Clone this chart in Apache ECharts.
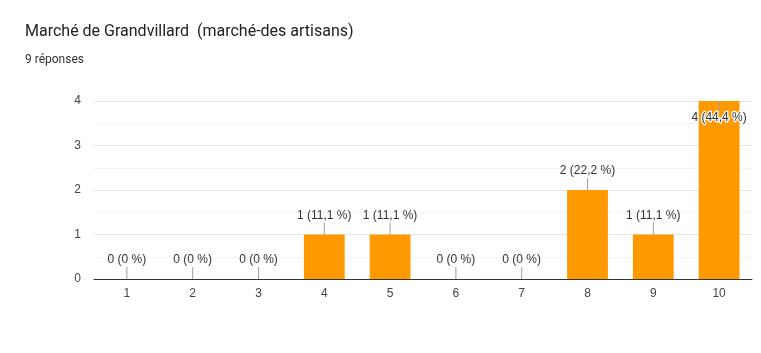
<!DOCTYPE html>
<html>
<head>
<meta charset="utf-8">
<script src="https://cdn.jsdelivr.net/npm/echarts@6/dist/echarts.min.js"></script>
<style>
  html, body { margin: 0; padding: 0; background: #fff; }
  #chart { width: 761px; height: 353px; }
</style>
</head>
<body>
<div id="chart"></div>
<script>
const categories = ['1', '2', '3', '4', '5', '6', '7', '8', '9', '10']
const counts = [0, 0, 0, 1, 1, 0, 0, 2, 1, 4]
const percents = ['0', '0', '0', '11,1', '11,1', '0', '0', '22,2', '11,1', '44,4']
const yTicks = [0, 1, 2, 3, 4]

const yMax = yTicks[yTicks.length - 1]
const chart = echarts.init(document.getElementById('chart'))

chart.setOption({
  animation: false,
  textStyle: { fontFamily: 'Roboto' },
  title: [{
    text: 'Marché de Grandvillard  (marché-des artisans)',
    left: 20, top: 19,
    textStyle: { fontSize: 16, fontWeight: 'normal', color: '#212121', fontFamily: 'Roboto' }
  }, {
    text: '9 réponses',
    left: 20, top: 49,
    textStyle: { fontSize: 12, fontWeight: 'normal', color: '#333', fontFamily: 'Roboto' }
  }],
  grid: { left: 94, right: 9, top: 101, bottom: 74 },
  xAxis: {
    type: 'category',
    data: categories,
    axisTick: { show: false },
    axisLine: { lineStyle: { color: '#333', width: 1 } },
    axisLabel: { color: '#444', fontSize: 12, margin: 9, fontFamily: 'Liberation Sans' }
  },
  yAxis: {
    type: 'value',
    min: 0, max: yMax, interval: 1,
    axisLabel: { color: '#444', fontSize: 12, margin: 13, fontFamily: 'Liberation Sans' },
    splitLine: { lineStyle: { color: '#e6e6e6' } },
    minorTick: { show: false, splitNumber: 2 },
    minorSplitLine: { show: true, lineStyle: { color: '#f3f3f3' } }
  },
  series: [{
    type: 'bar',
    data: counts,
    barWidth: '62%',
    itemStyle: { color: '#ff9900' }
  }, {
    // étiquettes avec petit trait
    type: 'custom',
    data: counts.map((v, i) => [i, v]),
    z: 5,
    renderItem: (params, api) => {
      const i = api.value(0)
      const v = api.value(1)
      const p = api.coord([i, v])
      const inside = v >= yMax
      const y2 = inside ? p[1] + 10 : p[1] - 12
      const ty = inside ? y2 + 7 : y2 - 7
      return {
        type: 'group',
        children: [{
          type: 'line',
          shape: { x1: p[0], y1: p[1], x2: p[0], y2: y2 },
          style: { stroke: '#9e9e9e', lineWidth: 1 }
        }, {
          type: 'text',
          style: {
            text: v + ' (' + percents[i] + ' %)',
            x: p[0], y: ty,
            align: 'center', verticalAlign: 'middle',
            fill: '#333',
            font: '12px "Liberation Sans"',
            stroke: inside ? '#fff' : null,
            lineWidth: inside ? 2.5 : 0
          }
        }]
      }
    }
  }]
})
</script>
</body>
</html>
